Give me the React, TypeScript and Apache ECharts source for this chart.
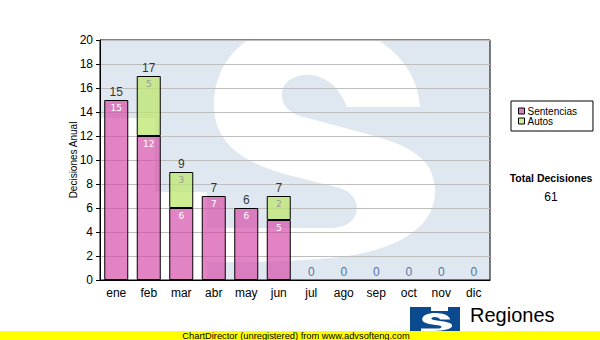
import React, { useEffect, useRef } from "react";
import * as echarts from "echarts";

const categories = ["ene", "feb", "mar", "abr", "may", "jun", "jul", "ago", "sep", "oct", "nov", "dic"];
const sentencias = [15, 12, 6, 7, 6, 5, 0, 0, 0, 0, 0, 0];
const autos = [0, 5, 3, 0, 0, 2, 0, 0, 0, 0, 0, 0];
const seriesNames = ["Sentencias", "Autos"];
const yMin = 0;
const yMax = 20;
const yInterval = 2;
const yAxisTitle = "Decisiones Anual";
const totalTitle = "Total Decisiones";
const footerText = "ChartDirector (unregistered) from www.advsofteng.com";
const logoText = "Regiones";

const S_PATH =
  "M 215 85 C 213 38 167 0 107 0 C 50 0 9 33 9 83 C 9 123 40 143 95 156 L 135 166 " +
  "C 159 173 159 206 125 206 L 0 206 L 0 240 C 45 240 85 240 125 236 " +
  "C 195 230 230 203 230 170 C 230 136 205 123 155 110 L 95 94 " +
  "C 76 88 72 70 82 60 C 95 48 128 48 142 85 L 215 85 Z";

let registered = false;
function ensureShape() {
  if (registered) return;
  echarts.graphic.registerShape("bigS", echarts.graphic.extendPath(S_PATH, {}));
  registered = true;
}

export default function App() {
  const ref = useRef<HTMLDivElement>(null);
  useEffect(() => {
    document.body.style.margin = "0";
    ensureShape();
    const chart = echarts.init(ref.current!, null, { renderer: "svg" });
    const totals = sentencias.map((v, i) => v + autos[i]);
    const grandTotal = totals.reduce((a, b) => a + b, 0);
    const pink = "rgba(214, 80, 170, 0.7)";
    const green = "rgba(190, 230, 110, 0.75)";
    chart.setOption({
      animation: false,
      textStyle: { fontFamily: "Liberation Sans, Arial, sans-serif" },
      grid: {
        left: 100,
        right: 110,
        top: 40,
        bottom: 60,
        show: true,
        borderColor: "#000",
        borderWidth: 1,
        backgroundColor: "transparent",
      },
      legend: {
        left: 511,
        top: 101,
        orient: "vertical",
        padding: [5, 16, 5, 7],
        borderColor: "#000",
        borderWidth: 1,
        itemWidth: 6,
        itemHeight: 6,
        itemGap: 0,
        icon: "rect",
        textStyle: { fontSize: 10, color: "#000", padding: [0, 0, 0, -2] },
        data: [
          { name: seriesNames[0], itemStyle: { color: "#e080c0", borderColor: "#000", borderWidth: 1 } },
          { name: seriesNames[1], itemStyle: { color: "#d4ee94", borderColor: "#000", borderWidth: 1 } },
        ],
      },
      xAxis: {
        type: "category",
        data: categories,
        axisLine: { lineStyle: { color: "#000", width: 1 } },
        axisTick: { alignWithLabel: true, length: 4, lineStyle: { color: "#000" } },
        axisLabel: { color: "#000", fontSize: 12, margin: 7 },
      },
      yAxis: {
        type: "value",
        min: yMin,
        max: yMax,
        interval: yInterval,
        name: yAxisTitle,
        nameLocation: "middle",
        nameRotate: 90,
        nameGap: 22,
        nameMoveOverlap: false,
        nameTextStyle: { fontSize: 10, color: "#000" },
        axisLine: { show: true, lineStyle: { color: "#000", width: 1 } },
        axisTick: { show: true, length: 4, lineStyle: { color: "#000" } },
        axisLabel: { color: "#000", fontSize: 12, margin: 7 },
        splitLine: { lineStyle: { color: "#bdbdbd", width: 1 } },
      },
      series: [
        {
          name: seriesNames[0],
          type: "bar",
          stack: "t",
          barWidth: 24,
          data: sentencias.map((v) => (v === 0 ? "-" : v)),
          itemStyle: { color: pink, borderColor: "#000", borderWidth: 1 },
          label: {
            show: true,
            position: "insideTop",
            distance: 3,
            color: "#fff",
            fontSize: 9,
            fontFamily: "DejaVu Sans",
          },
        },
        {
          name: seriesNames[1],
          type: "bar",
          stack: "t",
          barWidth: 24,
          data: autos.map((v) => (v === 0 ? "-" : v)),
          itemStyle: { color: green, borderColor: "#000", borderWidth: 1 },
          label: {
            show: true,
            position: "insideTop",
            distance: 3,
            color: "#9a9a9a",
            fontSize: 9,
            fontFamily: "DejaVu Sans",
          },
        },
        {
          name: "Total",
          type: "scatter",
          symbolSize: 0,
          z: 5,
          data: totals.map((v) => ({
            value: v,
            label: { color: v === 0 ? "#1f4f8f" : "#000" },
          })),
          label: { show: true, position: "top", distance: 2, fontSize: 12, color: "#000" },
        },
      ],
      graphic: [
        { type: "rect", z: -20, silent: true, shape: { x: 100, y: 40, width: 390, height: 240 }, style: { fill: "#dfe8f1" } },
        { type: "rect", z: -19, silent: true, shape: { x: 100, y: 118, width: 55, height: 162 }, style: { fill: "#ffffff" } },
        { type: "rect", z: -19, silent: true, shape: { x: 155, y: 192, width: 52, height: 88 }, style: { fill: "#ffffff" } },
        { type: "bigS", z: -19, silent: true, x: 205, y: 22, style: { fill: "#ffffff" } },
        {
          type: "text",
          z: 10,
          x: 551,
          y: 178,
          style: {
            text: totalTitle,
            fill: "#000",
            fontSize: 10.5,
            fontWeight: "bold",
            fontFamily: "Liberation Sans, Arial, sans-serif",
            textAlign: "center",
            textVerticalAlign: "middle",
          },
        },
        {
          type: "text",
          z: 10,
          x: 551,
          y: 197,
          style: {
            text: String(grandTotal),
            fill: "#000",
            fontSize: 12,
            fontFamily: "Liberation Sans, Arial, sans-serif",
            textAlign: "center",
            textVerticalAlign: "middle",
          },
        },
        { type: "rect", z: 10, shape: { x: 410, y: 307, width: 50, height: 30 }, style: { fill: "#0b4a8e" } },
        { type: "rect", z: 11, shape: { x: 431, y: 307, width: 17, height: 4 }, style: { fill: "#ffffff" } },
        { type: "bigS", z: 11, x: 421, y: 313, scaleX: 0.135, scaleY: 0.075, style: { fill: "#ffffff" } },
        {
          type: "text",
          z: 10,
          x: 470,
          y: 315,
          style: {
            text: logoText,
            fill: "#000",
            fontSize: 20,
            fontFamily: "Liberation Sans, Arial, sans-serif",
            textAlign: "left",
            textVerticalAlign: "middle",
          },
        },
        { type: "rect", z: 20, shape: { x: 0, y: 331, width: 600, height: 9 }, style: { fill: "#ffff00" } },
        {
          type: "text",
          z: 21,
          x: 296,
          y: 335.5,
          style: {
            text: footerText,
            fill: "#000",
            fontSize: 9.3,
            fontFamily: "Liberation Sans, Arial, sans-serif",
            textAlign: "center",
            textVerticalAlign: "middle",
          },
        },
      ],
    });
    return () => chart.dispose();
  }, []);
  return <div ref={ref} style={{ width: 600, height: 340 }} />;
}
